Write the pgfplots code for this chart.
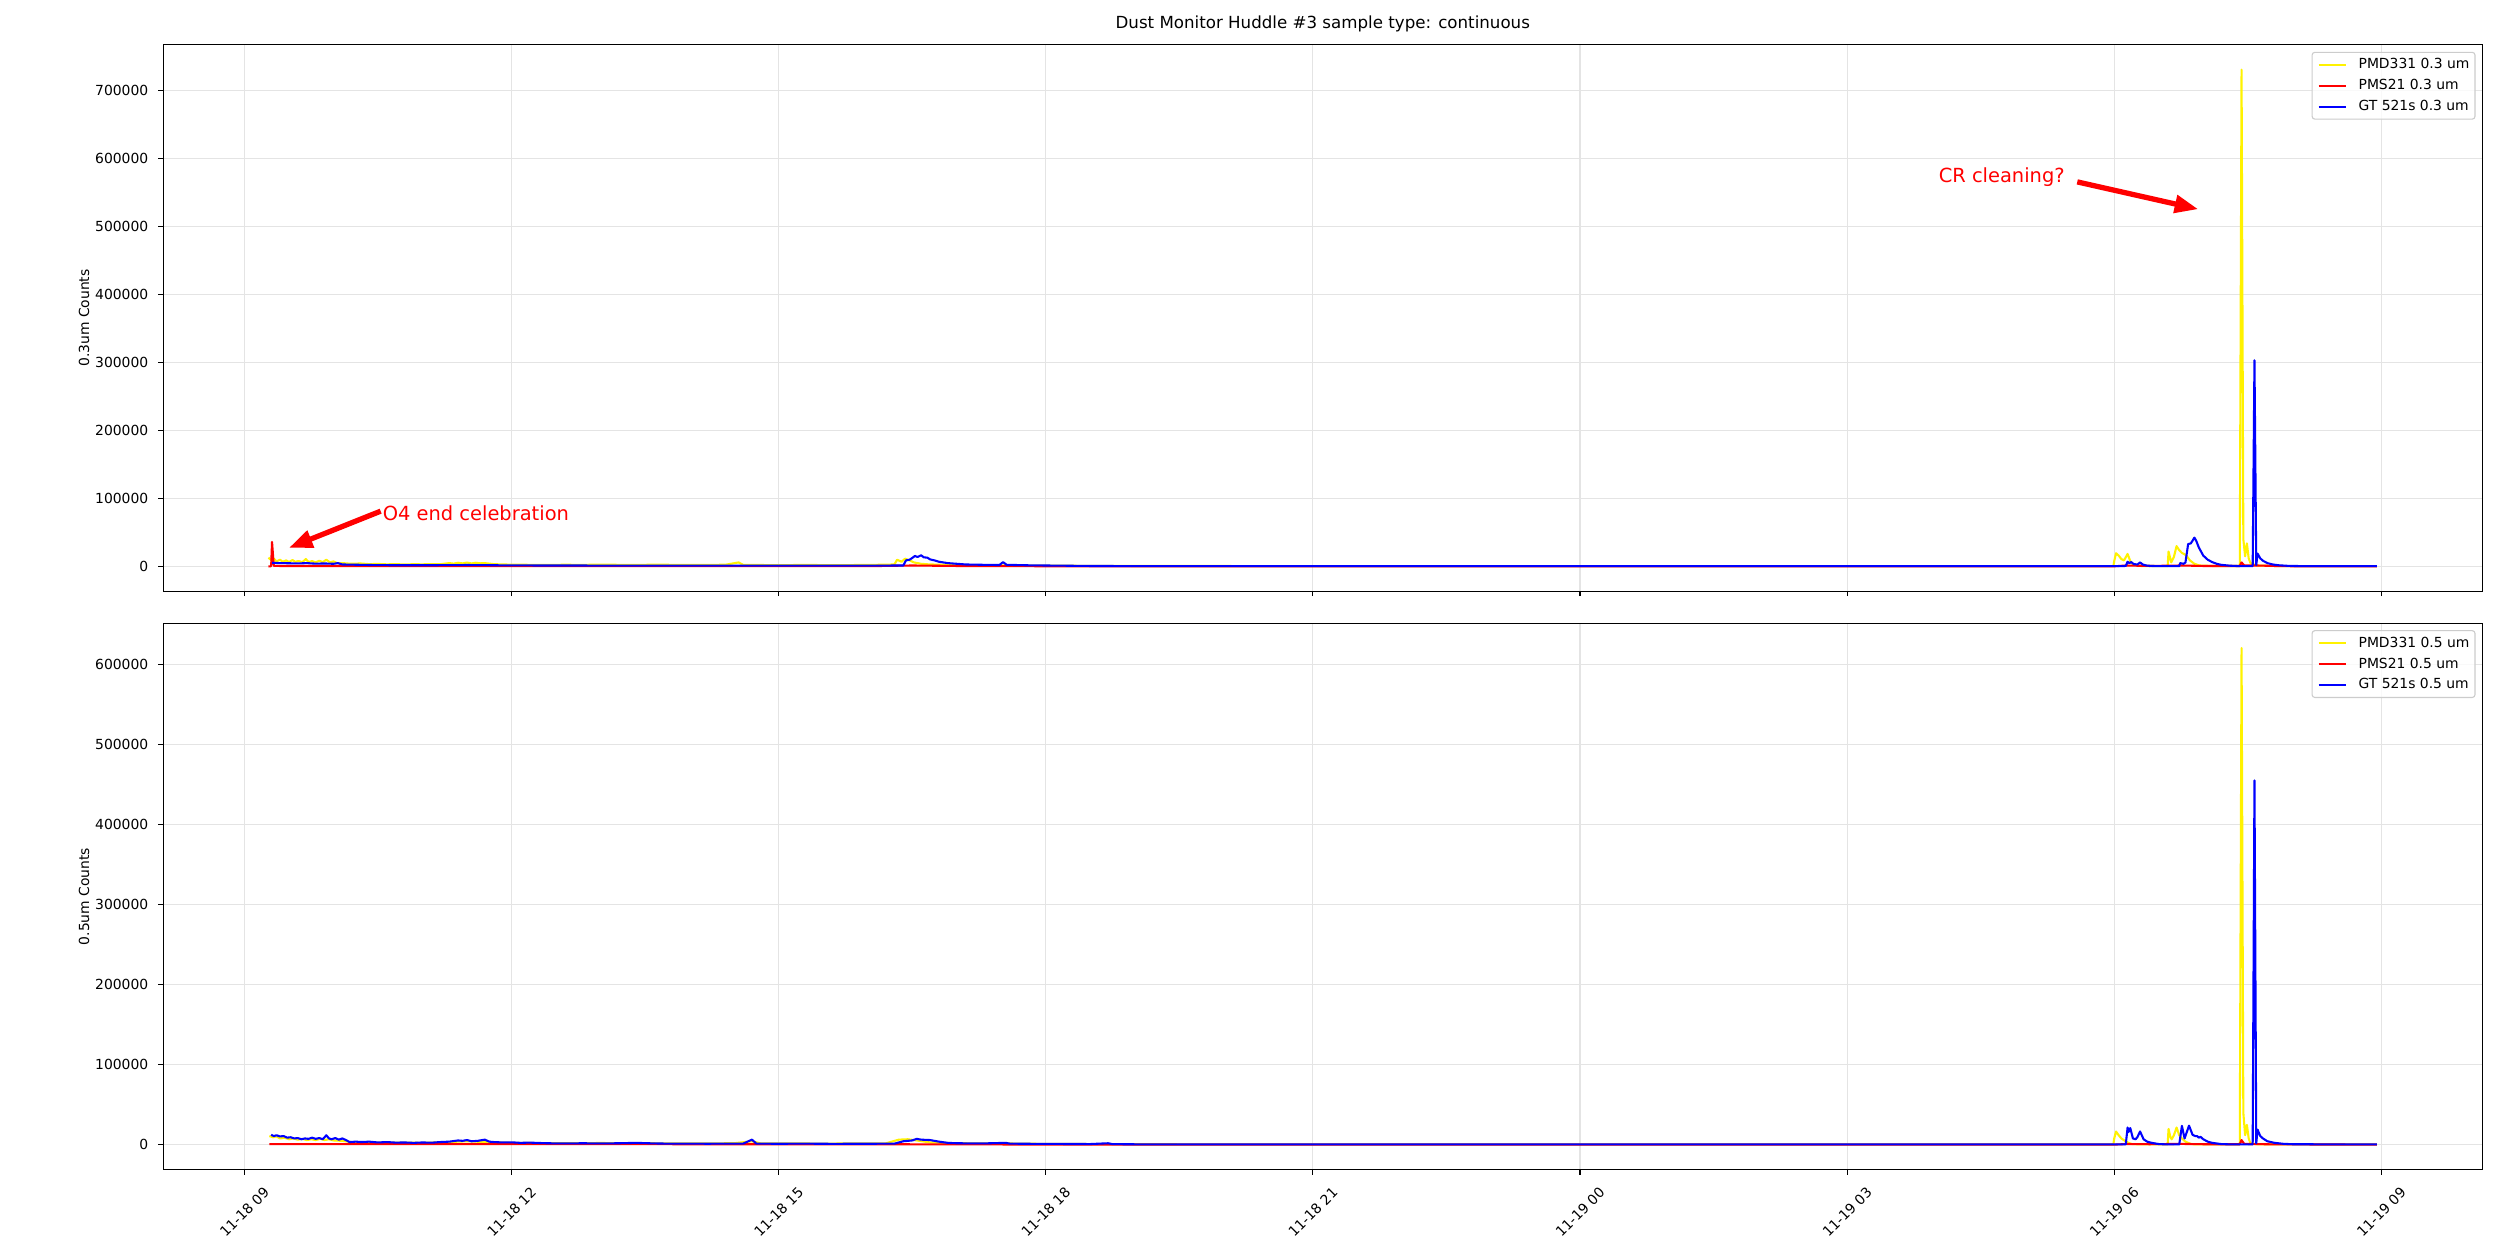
\documentclass[border=0pt]{standalone}
\usepackage{fontspec}
\setmainfont{DejaVu Sans}
\usepackage{pgfplots}
\pgfplotsset{compat=1.18}
\usetikzlibrary{arrows.meta}
\definecolor{gridc}{RGB}{228,228,228}
\definecolor{legc}{RGB}{204,204,204}
\pgfplotsset{
  common/.style={
    scale only axis, width=1670pt, height=393.5pt,
    anchor=south west,
    xmin=8.086, xmax=34.136,
    xtick={9,12,15,18,21,24,27,30,33},
    grid=major, grid style={color=gridc, line width=0.8pt},
    axis line style={line width=0.8pt},
    tick style={black, line width=0.8pt}, major tick length=3.5pt, tick align=outside,
    xtick pos=bottom, ytick pos=left,
    /pgf/number format/assume math mode=true,
    scaled y ticks=false, scaled x ticks=false,
    yticklabel style={font=\fontsize{10}{12}\selectfont, anchor=east, inner sep=0pt, xshift=-7pt},
    ylabel style={font=\fontsize{10}{12}\selectfont, at={(ticklabel cs:0.5,4pt)}, inner sep=0pt},
    legend cell align=left,
    legend image code/.code={\draw[#1] (0pt,0pt) -- (20pt,0pt);},
    legend style={at={(1,1)}, anchor=north east, xshift=-5pt, yshift=-5pt,
      draw=legc, line width=0.8pt, rounded corners=2pt, fill=white, fill opacity=0.8,
      draw opacity=1, text opacity=1, font=\fontsize{10}{12}\selectfont,
      inner xsep=4pt, inner ysep=4.2pt, row sep=5.6pt,
      nodes={inner sep=0pt, text height=7.6pt, text depth=1.9pt},
      /tikz/every odd column/.append style={column sep=8pt}},
    every axis plot/.append style={line width=1.5pt, line join=round, mark=none},
  }
}
\begin{document}
\begin{tikzpicture}
\path[use as bounding box] (0,0) rectangle (1804.32pt,902.88pt);
% ---------------- top axis ----------------
\begin{axis}[common, at={(117.4pt,477.1pt)},
  ymin=-36500, ymax=766500,
  ytick={0,100000,200000,300000,400000,500000,600000,700000},
  yticklabels={0,100000,200000,300000,400000,500000,600000,700000},
  xticklabels={},
  ylabel={0.3um Counts},
  title={Dust Monitor Huddle \#3 sample type: continuous},
  title style={at={(0.5,1)}, anchor=base, yshift=6pt, inner sep=0pt, font=\fontsize{12}{14}\selectfont}]
\addplot[yellow] coordinates {
(9.27,13000)(9.30,9500)(9.33,11500)(9.36,7500)(9.40,10000)(9.43,7000)(9.47,9000)(9.50,6500)(9.54,9500)(9.57,7000)
(9.61,8000)(9.65,6300)(9.69,11000)(9.72,6500)(9.76,8000)(9.80,6000)(9.84,8500)(9.88,6500)(9.92,10000)(9.96,6000)
(10.00,7500)(10.04,5000)(10.10,5000)(10.2,4000)(10.3,4500)(10.4,3500)(10.5,3800)(10.6,3200)(10.7,3500)(10.8,3000)
(10.9,3400)(11.0,3200)(11.1,3600)(11.2,3400)(11.3,5000)(11.35,4200)(11.4,5500)(11.45,4600)(11.5,5800)(11.55,4500)
(11.6,5500)(11.65,4700)(11.7,5000)(11.8,3500)(11.9,3000)(12.0,2800)(12.2,2500)(12.4,2300)(12.6,2600)(12.8,2400)
(13.0,2800)(13.2,2500)(13.4,2300)(13.6,2700)(13.8,2500)(14.0,2200)(14.2,2400)(14.4,2600)(14.55,6000)(14.6,2500)
(14.8,2200)(15.0,2000)(15.3,2300)(15.6,2000)(15.9,2200)(16.1,2500)(16.3,3000)(16.33,10000)(16.38,7000)(16.42,11500)
(16.47,9000)(16.52,6000)(16.6,4000)(16.7,3000)(16.9,2500)(17.1,2000)(17.4,1800)(17.7,1500)(18.0,1200)(18.5,1000)
(19,800)(20,700)(22,600)(24,600)(26,600)(28,600)(29.99,600)(30.0,8000)(30.02,19500)(30.05,16000)
(30.08,11000)(30.11,9000)(30.15,18500)(30.18,8000)(30.21,3000)(30.25,1500)(30.3,800)(30.6,600)(30.61,22000)(30.64,6000)
(30.67,14000)(30.70,30000)(30.73,24000)(30.76,20000)(30.79,18000)(30.81,16000)(30.85,9000)(30.9,4000)(30.96,1500)(31.1,800)
(31.41,800)(31.43,730000)(31.45,40000)(31.47,15000)(31.49,34000)(31.51,12000)(31.53,5000)(31.6,1500)(31.8,800)(32.0,600)
(32.95,600)};
\addlegendentry{PMD331 0.3 um}
\addplot[red] coordinates {
(9.27,0)(9.30,500)(9.31,36000)(9.33,1000)(9.40,800)(10,800)(11,700)(12,600)(14,500)(16,500)(16.5,1500)(17,800)
(18,400)(20,300)(25,300)(30,300)(30.13,1500)(30.4,800)(30.75,1500)(31.0,800)(31.41,800)(31.43,6000)(31.46,1500)
(31.6,1500)(31.8,800)(32.0,400)(32.95,300)};
\addlegendentry{PMS21 0.3 um}
\addplot[blue] coordinates {
(9.31,5500)(9.4,5000)(9.5,4800)(9.6,4500)(9.7,5000)(9.8,4200)(9.9,4500)(10.0,4000)(10.05,5000)(10.1,3000)(10.3,2500)
(10.5,2000)(10.8,1800)(11.0,1800)(11.3,2000)(11.5,2200)(11.7,2000)(12.0,1600)(12.5,1500)(13,1400)(13.5,1400)(14,1300)
(14.5,1400)(15,1300)(15.5,1300)(16,1300)(16.4,1500)(16.43,9000)(16.47,10000)(16.5,12500)(16.53,15500)(16.56,14000)
(16.6,16500)(16.63,13500)(16.67,13000)(16.7,10500)(16.75,9000)(16.8,7000)(16.9,5000)(17.0,4000)(17.1,3000)(17.3,2500)
(17.48,2200)(17.52,6500)(17.56,2500)(17.8,1800)(18.0,1500)(18.5,800)(19,600)(20,500)(22,500)(25,500)(28,500)(30.1,500)
(30.13,1000)(30.15,7000)(30.17,5000)(30.19,6500)(30.22,3500)(30.26,3000)(30.29,6000)(30.32,3000)(30.36,1500)(30.42,800)
(30.5,500)(30.73,500)(30.74,5000)(30.78,4000)(30.8,6000)(30.83,33000)(30.86,34000)(30.88,38000)(30.9,42500)(30.92,38000)
(30.95,28000)(31.0,16000)(31.05,10000)(31.1,6500)(31.15,4000)(31.2,2500)(31.3,1200)(31.4,600)(31.555,600)(31.575,303000)
(31.595,2000)(31.61,19000)(31.64,12000)(31.67,8500)(31.72,5000)(31.78,3000)(31.85,1800)(31.95,1000)(32.1,600)(32.5,500)
(32.95,500)};
\addlegendentry{GT 521s 0.3 um}
\node[anchor=west, text=red, inner sep=0pt, font=\fontsize{14}{16}\selectfont] at (axis cs:10.551,78700) {O4 end celebration};
\draw[red, line width=3.8pt, -{Triangle[length=17pt,width=12.5pt]}] (axis cs:10.53,81300) -- (axis cs:9.50,27500);
\node[anchor=east, text=red, inner sep=0pt, font=\fontsize{14}{16}\selectfont] at (axis cs:29.447,572500) {CR cleaning?};
\draw[red, line width=3.8pt, -{Triangle[length=17pt,width=12.5pt]}] (axis cs:29.585,565100) -- (axis cs:30.944,525000);
\end{axis}
% ---------------- bottom axis ----------------
\begin{axis}[common, at={(117.4pt,60.7pt)},
  ymin=-31050, ymax=652050,
  ytick={0,100000,200000,300000,400000,500000,600000},
  yticklabels={0,100000,200000,300000,400000,500000,600000},
  xticklabels={11-18 09,11-18 12,11-18 15,11-18 18,11-18 21,11-19 00,11-19 03,11-19 06,11-19 09},
  xticklabel style={font=\fontsize{10}{12}\selectfont, anchor=center, inner sep=0pt, yshift=-27pt, rotate=45},
  ylabel={0.5um Counts}]
\addplot[yellow] coordinates {
(9.28,11000)(9.32,9500)(9.36,10500)(9.4,8000)(9.45,9000)(9.5,7000)(9.55,8000)(9.6,6500)(9.65,7500)(9.7,6000)
(9.75,7000)(9.8,6000)(9.85,7500)(9.9,6000)(9.95,7000)(10.0,5500)(10.1,5000)(10.2,3500)(10.4,3000)(10.6,2500)
(10.8,2800)(11.0,2500)(11.3,3500)(11.5,4500)(11.7,3500)(12.0,2500)(12.5,2000)(13.0,2300)(13.5,2000)(14.0,1800)
(14.5,2000)(14.7,4500)(14.8,1800)(15.5,1600)(16.2,1800)(16.35,6500)(16.45,7000)(16.55,5500)(16.7,3000)(17.0,2000)
(17.5,1800)(18,1200)(19,800)(20,600)(25,500)(29.99,500)(30.0,8000)(30.02,16700)(30.05,12000)(30.08,8000)
(30.12,5000)(30.16,2500)(30.2,1000)(30.3,600)(30.6,500)(30.61,20000)(30.63,10000)(30.645,7000)(30.67,12000)(30.70,21700)
(30.73,12000)(30.76,8000)(30.8,4000)(30.85,1500)(30.9,600)(31.41,600)(31.43,621000)(31.45,40000)(31.47,12000)(31.49,25000)
(31.51,8000)(31.53,2000)(31.6,800)(32.95,500)};
\addlegendentry{PMD331 0.5 um}
\addplot[red] coordinates {
(9.28,1000)(10,1000)(12,900)(14,800)(16,800)(17,600)(18,400)(20,300)(30,300)(30.13,1000)(30.4,800)(30.74,1200)
(31.0,800)(31.41,800)(31.43,6000)(31.46,1200)(31.8,600)(32.95,300)};
\addlegendentry{PMS21 0.5 um}
\addplot[blue] coordinates {
(9.30,12500)(9.33,11000)(9.36,12000)(9.40,10500)(9.44,11000)(9.48,9000)(9.52,9500)(9.56,8000)(9.60,8500)(9.64,7000)
(9.68,8000)(9.72,7500)(9.76,9000)(9.80,7500)(9.84,8500)(9.88,7000)(9.92,12000)(9.95,8000)(9.98,7000)(10.02,8500)
(10.06,6500)(10.10,8000)(10.14,6000)(10.18,3500)(10.25,4000)(10.32,3500)(10.4,4000)(10.5,3000)(10.6,3500)(10.7,2800)
(10.8,3000)(10.9,2500)(11.0,3000)(11.1,2700)(11.2,3500)(11.3,4000)(11.4,5500)(11.45,5000)(11.5,6000)(11.55,4500)
(11.62,5000)(11.7,6500)(11.75,4000)(11.8,3500)(11.9,3000)(12.0,3200)(12.1,2500)(12.2,2800)(12.4,2000)(12.6,1800)
(12.8,2000)(13.0,1800)(13.2,2000)(13.4,2500)(13.6,1800)(13.8,1500)(14.0,1600)(14.2,1400)(14.4,1600)(14.6,1500)
(14.7,6500)(14.75,1500)(15.0,1400)(15.3,1500)(15.6,1300)(16.0,1400)(16.3,1500)(16.4,4500)(16.5,5500)(16.55,7500)
(16.6,6500)(16.7,6000)(16.8,4000)(16.9,2500)(17.0,2000)(17.3,1800)(17.55,2500)(17.6,1500)(18,1200)(18.5,1000)
(18.7,2000)(18.75,900)(19,700)(20,600)(25,500)(30.12,500)(30.13,1000)(30.15,21700)(30.16,16000)(30.18,21000)
(30.21,8000)(30.24,7000)(30.26,9600)(30.29,16700)(30.33,7000)(30.37,4000)(30.42,2500)(30.5,1000)(30.6,500)(30.73,500)
(30.74,8000)(30.76,23800)(30.79,8000)(30.84,24000)(30.88,12500)(30.91,11000)(30.93,11000)(30.95,9000)(30.97,10000)(31.0,7000)
(31.05,4000)(31.1,2500)(31.2,1000)(31.3,600)(31.555,600)(31.575,455500)(31.595,2000)(31.61,19000)(31.64,11000)(31.67,8000)
(31.72,4500)(31.8,2500)(31.9,1300)(32.0,800)(32.5,600)(32.95,700)};
\addlegendentry{GT 521s 0.5 um}
\end{axis}
\end{tikzpicture}
\end{document}
